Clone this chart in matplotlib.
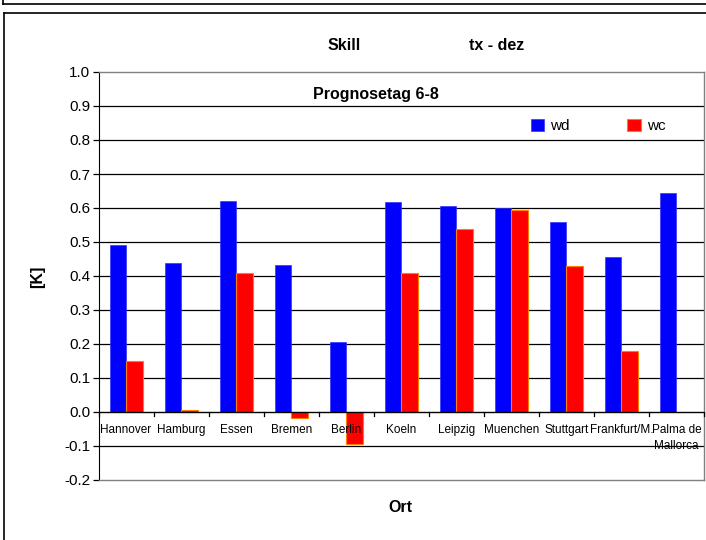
import matplotlib
matplotlib.use("Agg")
import matplotlib.pyplot as plt
import numpy as np
from matplotlib.lines import Line2D

plt.rcParams['font.family'] = ['Liberation Sans', 'DejaVu Sans']

orte = ["Hannover", "Hamburg", "Essen", "Bremen", "Berlin", "Koeln", "Leipzig",
        "Muenchen", "Stuttgart", "Frankfurt/M.", "Palma de\nMallorca"]
wd = [0.49, 0.438, 0.62, 0.433, 0.205, 0.618, 0.605, 0.60, 0.558, 0.455, 0.645]
wc = [0.15, 0.006, 0.408, -0.018, -0.095, 0.41, 0.538, 0.594, 0.428, 0.18, np.nan]
yticks = [-0.2, -0.1, 0.0, 0.1, 0.2, 0.3, 0.4, 0.5, 0.6, 0.7, 0.8, 0.9, 1.0]

W, H = 706, 540
fig = plt.figure(figsize=(W / 100, H / 100), dpi=100)

# outer frames
fig.add_artist(Line2D([3 / W, 1.0], [1 - 4 / H, 1 - 4 / H], color='black', lw=1.2))
fig.add_artist(Line2D([3 / W, 3 / W], [1 - 4 / H, 1.0], color='black', lw=1.2))
fig.add_artist(Line2D([4 / W, 1.0], [1 - 13 / H, 1 - 13 / H], color='black', lw=1.2))
fig.add_artist(Line2D([4 / W, 4 / W], [0, 1 - 13 / H], color='black', lw=1.2))

ax = fig.add_axes([98.5 / W, 1 - 480 / H, (704 - 98.5) / W, (480 - 72) / H])

x = np.arange(len(orte))
bw = 0.3
ax.bar(x - bw / 2, wd, width=bw, color='#0000ff', edgecolor='#3333ff', linewidth=0.5,
       label='wd', zorder=3)
ax.bar(x + bw / 2, wc, width=bw, color='#ff0000', edgecolor='#ff8000', linewidth=0.8,
       label='wc', zorder=3)

ax.set_xlim(-0.5, len(orte) - 0.5)
ax.set_ylim(-0.2, 1.0)
ax.set_yticks(yticks)
ax.set_yticklabels([f"{t:.1f}" for t in yticks], fontsize=11)
for t in yticks[1:-1]:
    if t != 0.0:
        ax.axhline(t, color='black', lw=0.9, zorder=1)
ax.axhline(0.0, color='black', lw=1.0, zorder=4)

ax.set_xticks([])
for b in np.arange(-0.5, len(orte) + 0.5, 1.0):
    ax.plot([b, b], [0, -0.012], color='black', lw=0.9, zorder=4, clip_on=False)
for i, name in enumerate(orte):
    ax.text(i, -0.035, name, ha='center', va='top', fontsize=8.5, zorder=5,
            linespacing=1.45)

for s in ['top', 'right', 'bottom']:
    ax.spines[s].set_color('#808080')
    ax.spines[s].set_linewidth(1.0)
ax.spines['left'].set_color('black')
ax.tick_params(axis='y', length=4, width=0.9, pad=2)

fig.text(38 / W, 1 - 277 / H, '[K]', ha='center', va='center', fontsize=11.5,
         fontweight='bold', rotation=90)
fig.text(400 / W, 1 - 507 / H, 'Ort', ha='center', va='center', fontsize=11.5,
         fontweight='bold')
fig.text(344 / W, 1 - 46 / H, 'Skill', ha='center', va='center', fontsize=11.5,
         fontweight='bold')
fig.text(497 / W, 1 - 46 / H, 'tx - dez', ha='center', va='center', fontsize=11.5,
         fontweight='bold')
fig.text(376 / W, 1 - 95 / H, 'Prognosetag 6-8', ha='center', va='center',
         fontsize=11.5, fontweight='bold')

leg = ax.legend(loc='center left', bbox_to_anchor=(432 / 605.5, 0.868), ncol=2,
                frameon=False, fontsize=11, handlelength=0.9, handleheight=0.9,
                columnspacing=3.75, handletextpad=0.4, borderaxespad=0, borderpad=0)

fig.savefig('out.png', dpi=100)
